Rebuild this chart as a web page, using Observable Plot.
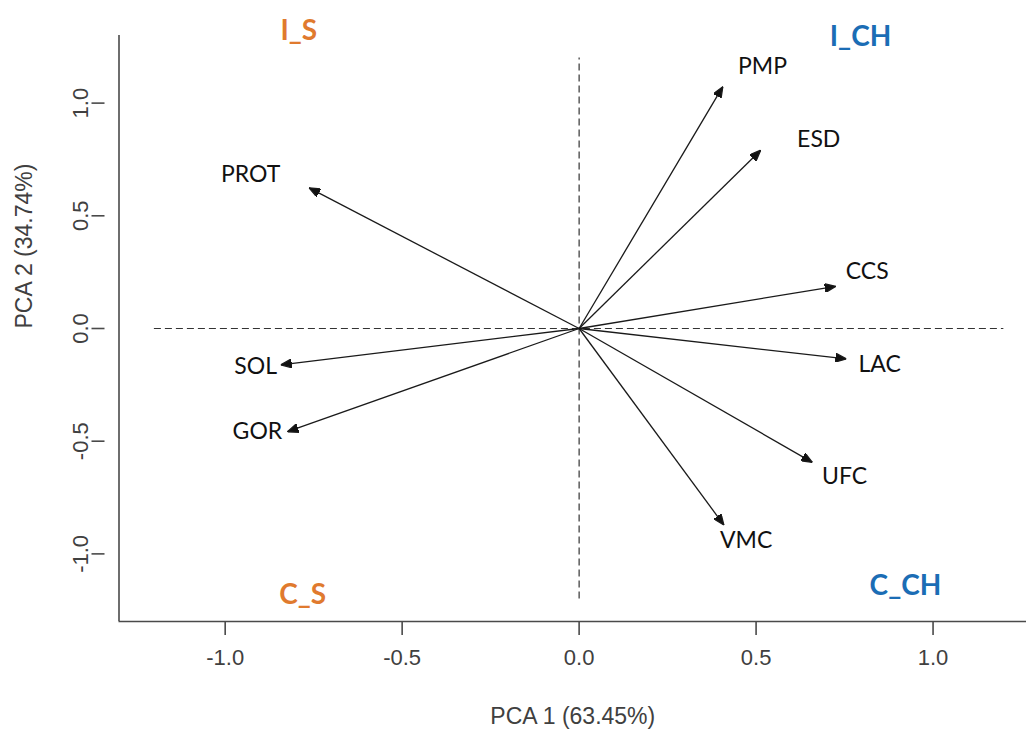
<!DOCTYPE html>
<html>
<head>
<meta charset="utf-8">
<script src="https://cdn.jsdelivr.net/npm/d3@7"></script>
<script src="https://cdn.jsdelivr.net/npm/@observablehq/plot@0.6"></script>
<style>
  html, body { margin: 0; padding: 0; background: #fff; }
  #chart svg { display: block; }
</style>
</head>
<body>
<div id="chart"></div>
<script>
// Variable loadings (arrow tips) on PCA 1 / PCA 2
const variables = ["PMP", "ESD", "CCS", "LAC", "UFC", "VMC", "PROT", "SOL", "GOR"];
const pc1 = [0.406, 0.513, 0.725, 0.755, 0.659, 0.409, -0.763, -0.843, -0.824];
const pc2 = [1.073, 0.791, 0.187, -0.135, -0.594, -0.872, 0.624, -0.161, -0.458];
// label anchor positions (in PCA units)
const labelX = [0.518, 0.677, 0.814, 0.849, 0.750, 0.472, -0.928, -0.914, -0.909];
const labelY = [1.164, 0.839, 0.253, -0.161, -0.658, -0.939, 0.683, -0.169, -0.458];

// Quadrant group labels
const groups = ["I_S", "I_CH", "C_S", "C_CH"];
const groupX = [-0.792, 0.795, -0.781, 0.922];
const groupY = [1.319, 1.292, -1.184, -1.144];
const groupColor = ["#E07A2E", "#1B6DB5", "#E07A2E", "#1B6DB5"];

const xTicks = [-1.0, -0.5, 0.0, 0.5, 1.0];
const yTicks = [-1.0, -0.5, 0.0, 0.5, 1.0];
const xDomain = [-1.3, 1.264];
const yDomain = [-1.3, 1.3];
const refExtent = [-1.2, 1.2];

const xLabel = "PCA 1 (63.45%)";
const yLabel = "PCA 2 (34.74%)";

const loadings = variables.map((v, i) => ({name: v, x: pc1[i], y: pc2[i], lx: labelX[i], ly: labelY[i]}));
const groupData = groups.map((g, i) => ({name: g, x: groupX[i], y: groupY[i], color: groupColor[i]}));

const filledArrow = (color) =>
  d3.create("svg:marker")
    .attr("viewBox", "-11 -4.5 11 9")
    .attr("refX", 0)
    .attr("refY", 0)
    .attr("markerWidth", 11)
    .attr("markerHeight", 9)
    .attr("markerUnits", "userSpaceOnUse")
    .attr("orient", "auto")
    .attr("fill", "#111")
    .call(m => m.append("path").attr("d", "M-11,-4.5L0,0L-11,4.5Z"))
    .node();

const fmt = d => d.toFixed(1);
const axisColor = "#4a4a4a";
const tickText = "#404040";
const sans = "Liberation Sans, Arial, sans-serif";

const chart = Plot.plot({
  width: 1026,
  height: 731,
  marginLeft: 118.5,
  marginRight: 0,
  marginTop: 35,
  marginBottom: 110,
  style: {background: "#fff", overflow: "visible"},
  x: {domain: xDomain},
  y: {domain: yDomain},
  marks: [
    // L-shaped box
    Plot.ruleX([xDomain[0]], {stroke: axisColor, strokeWidth: 1.6}),
    Plot.ruleY([yDomain[0]], {stroke: axisColor, strokeWidth: 1.6}),
    Plot.axisX(xTicks, {
      tickSize: 14, tickPadding: 14, stroke: axisColor, strokeWidth: 1.6,
      color: tickText, fontSize: 22, fontFamily: sans,
      tickFormat: fmt, label: null
    }),
    Plot.axisY(yTicks, {
      tickSize: 13, tickPadding: 4, stroke: axisColor, strokeWidth: 1.6,
      color: tickText, fontSize: 22, fontFamily: sans,
      tickFormat: fmt, tickRotate: -90, textAnchor: "middle", dx: -14, label: null
    }),
    // axis titles
    Plot.text([xLabel], {
      frameAnchor: "bottom", dy: 102, text: d => d,
      fontSize: 23, fill: tickText, fontFamily: sans
    }),
    Plot.text([yLabel], {
      frameAnchor: "left", dx: -94, rotate: -90, text: d => d,
      fontSize: 23, fill: tickText, fontFamily: sans
    }),
    // dashed reference lines
    Plot.ruleY([0], {x1: refExtent[0], x2: refExtent[1], stroke: "#333", strokeDasharray: "7,4", strokeWidth: 1.2}),
    Plot.ruleX([0], {y1: refExtent[0], y2: refExtent[1], stroke: "#333", strokeDasharray: "7,4", strokeWidth: 1.2}),
    // loading arrows
    Plot.link(loadings, {
      x1: 0, y1: 0, x2: "x", y2: "y",
      stroke: "#1a1a1a", strokeWidth: 1.3, markerEnd: filledArrow
    }),
    Plot.text(loadings, {
      x: "lx", y: "ly", text: "name",
      fontSize: 23, fill: "#111", fontFamily: "Lato, Carlito, Calibri, sans-serif"
    }),
    // group labels
    Plot.text(groupData, {
      x: "x", y: "y", text: "name", fill: "color",
      fontSize: 28, fontWeight: "bold", fontFamily: "Lato, Carlito, Calibri, sans-serif"
    })
  ]
});

document.getElementById("chart").appendChild(chart);
</script>
</body>
</html>
